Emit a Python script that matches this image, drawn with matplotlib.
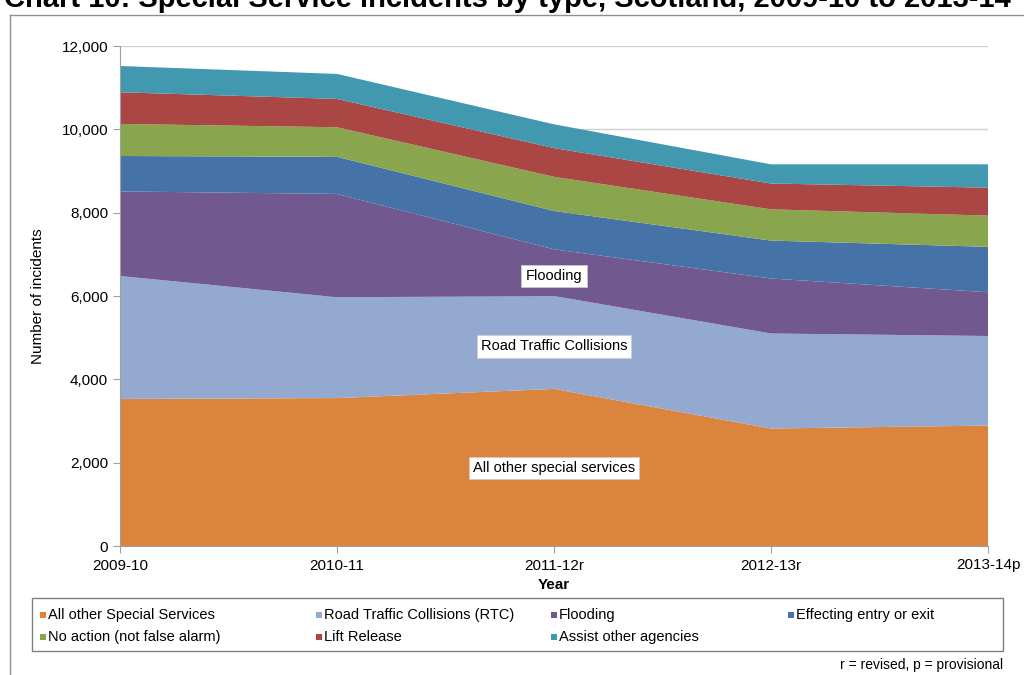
import matplotlib
matplotlib.use("Agg")
import matplotlib.pyplot as plt
from matplotlib.patches import Rectangle
from matplotlib.lines import Line2D
from matplotlib.ticker import FuncFormatter

plt.rcParams['font.family'] = ['Liberation Sans', 'DejaVu Sans']

years = ["2009-10", "2010-11", "2011-12r", "2012-13r", "2013-14p"]

# incidents per type
all_other = [3530, 3550, 3770, 2820, 2890]
rtc       = [2950, 2420, 2230, 2280, 2150]
flooding  = [2030, 2480, 1120, 1320, 1050]
effecting = [850, 890, 920, 910, 1090]
no_action = [770, 710, 820, 750, 750]
lift      = [760, 680, 690, 620, 670]
assist    = [630, 600, 570, 460, 560]

series = [all_other, rtc, flooding, effecting, no_action, lift, assist]
names = ["All other Special Services", "Road Traffic Collisions (RTC)", "Flooding",
         "Effecting entry or exit", "No action (not false alarm)", "Lift Release",
         "Assist other agencies"]
colors = ["#DB843D", "#93A9CF", "#71588F", "#4572A7", "#89A54E", "#AA4643", "#4198AF"]

W, H = 1024, 675
fig = plt.figure(figsize=(W/100, H/100), dpi=100)
ax = fig.add_axes([120/W, 1-546/H, 868/W, 500/H])

x = list(range(len(years)))
ax.stackplot(x, *series, colors=colors, linewidth=0, zorder=2)

ax.set_xlim(0, len(years)-1)
ax.set_ylim(0, 12000)
ax.set_yticks(range(0, 12001, 2000))
ax.yaxis.set_major_formatter(FuncFormatter(lambda v, p: f"{int(v):,}"))
ax.set_xticks(x)
ax.set_xticklabels(years)
ax.grid(axis='y', color='#d0d0d0', linewidth=1, zorder=0)
ax.set_axisbelow(True)
for s in ['top', 'right']:
    ax.spines[s].set_visible(False)
for s in ['left', 'bottom']:
    ax.spines[s].set_color('#a0a0a0')
ax.tick_params(axis='both', colors='#a0a0a0', labelcolor='black', labelsize=11, length=5)
ax.tick_params(axis='x', pad=4)
ax.set_ylabel("Number of incidents", fontsize=11, labelpad=12)
ax.set_xlabel("Year", fontsize=11, fontweight='bold', labelpad=4)

# in-chart labels
box = dict(facecolor='white', edgecolor='#cccccc', linewidth=0.5, pad=3)
ax.text(2, 6480, "Flooding", ha='center', va='center', fontsize=10.5, bbox=box, zorder=5)
ax.text(2.0, 4790, "Road Traffic Collisions", ha='center', va='center', fontsize=10.5, bbox=box, zorder=5)
ax.text(2.0, 1870, "All other special services", ha='center', va='center', fontsize=10.5, bbox=box, zorder=5)

# title (cut at the top of the image, as in the source)
fig.text(4/W, 1-7/H, "Chart 10: Special Service incidents by type, Scotland, 2009-10 to 2013-14",
         fontsize=21, fontweight='bold', va='baseline', ha='left')

# outer frame
fig.add_artist(Line2D([10/W, 10/W], [0, 1-15/H], color='#909090', linewidth=1))
fig.add_artist(Line2D([10/W, 1], [1-15/H, 1-15/H], color='#909090', linewidth=1))

# legend box, drawn by hand to get Excel-style equal columns
fig.add_artist(Rectangle((32/W, 1-651/H), (1003-32)/W, (651-598)/H, transform=fig.transFigure,
                         facecolor='white', edgecolor='#808080', linewidth=1))
col_x = [40, 316, 551, 788]
row_y = [615, 637]
for i, (nm, c) in enumerate(zip(names, colors)):
    r, k = divmod(i, 4)
    px, py = col_x[k], row_y[r]
    fig.add_artist(Rectangle((px/W, 1-(py+3)/H), 6/W, 6/H, transform=fig.transFigure,
                             facecolor=c, edgecolor='none'))
    fig.text((px+8)/W, 1-py/H, nm, fontsize=10.5, va='center', ha='left')

fig.text(1003/W, 1-665/H, "r = revised, p = provisional", fontsize=10, ha='right', va='center')

fig.savefig("out.png", dpi=100)
